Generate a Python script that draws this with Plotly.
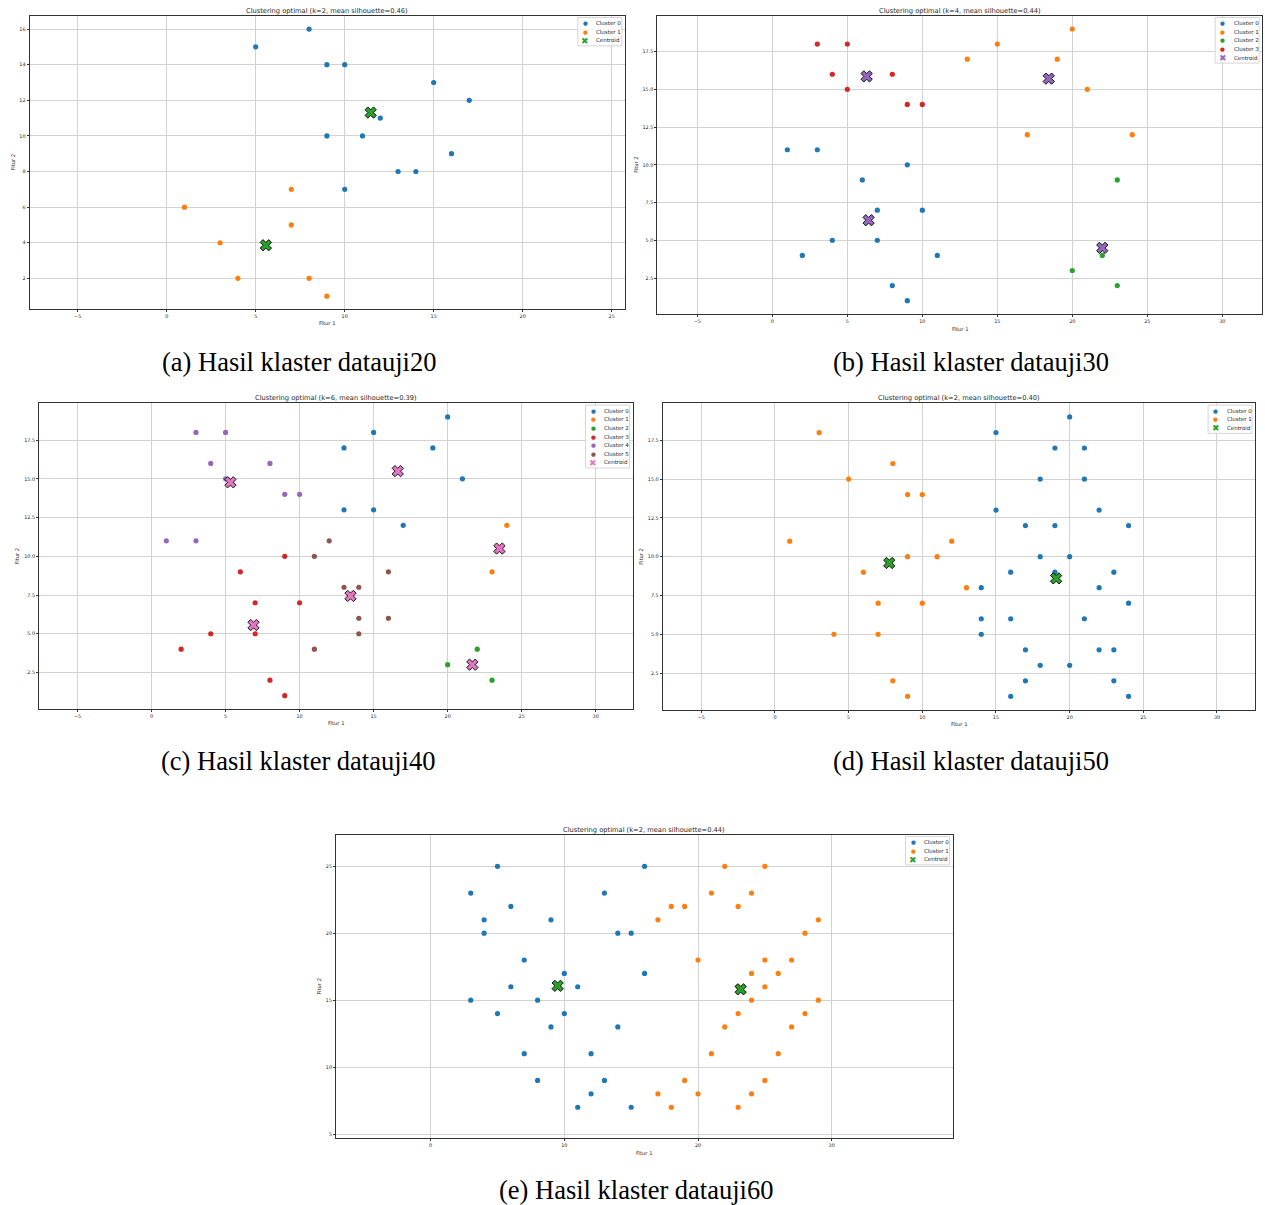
import plotly.graph_objects as go

W, H = 1265, 1205
TAB = ["#1f77b4", "#ff7f0e", "#2ca02c", "#d62728", "#9467bd", "#8c564b", "#e377c2"]

# ---------------- (a) datauji20, k=2 ----------------
A_C0_X = [8, 5, 9, 10, 15, 17, 12, 9, 11, 16, 13, 14, 10]
A_C0_Y = [16, 15, 14, 14, 13, 12, 11, 10, 10, 9, 8, 8, 7]
A_C1_X = [7, 1, 7, 3, 4, 8, 9]
A_C1_Y = [7, 6, 5, 4, 2, 2, 1]
A_CEN_X = [11.46, 5.57]
A_CEN_Y = [11.31, 3.86]

# ---------------- (b) datauji30, k=4 ----------------
B_C0_X = [1, 3, 9, 6, 7, 10, 4, 7, 2, 11, 8, 9]
B_C0_Y = [11, 11, 10, 9, 7, 7, 5, 5, 4, 4, 2, 1]
B_C1_X = [20, 15, 13, 19, 21, 17, 24]
B_C1_Y = [19, 18, 17, 17, 15, 12, 12]
B_C2_X = [23, 22, 20, 23]
B_C2_Y = [9, 4, 3, 2]
B_C3_X = [3, 5, 4, 8, 5, 9, 10]
B_C3_Y = [18, 18, 16, 16, 15, 14, 14]
B_CEN_X = [6.42, 18.43, 22.0, 6.29]
B_CEN_Y = [6.33, 15.71, 4.5, 15.86]

# ---------------- (c) datauji40, k=6 ----------------
C_C0_X = [20, 15, 13, 19, 21, 13, 15, 17]
C_C0_Y = [19, 18, 17, 17, 15, 13, 13, 12]
C_C1_X = [24, 23]
C_C1_Y = [12, 9]
C_C2_X = [22, 20, 23]
C_C2_Y = [4, 3, 2]
C_C3_X = [9, 6, 7, 10, 4, 7, 2, 8, 9]
C_C3_Y = [10, 9, 7, 7, 5, 5, 4, 2, 1]
C_C4_X = [3, 5, 4, 8, 5, 9, 10, 1, 3]
C_C4_Y = [18, 18, 16, 16, 15, 14, 14, 11, 11]
C_C5_X = [12, 11, 16, 13, 14, 14, 16, 14, 11]
C_C5_Y = [11, 10, 9, 8, 8, 6, 6, 5, 4]
C_CEN_X = [16.63, 23.5, 21.67, 6.89, 5.33, 13.44]
C_CEN_Y = [15.5, 10.5, 3.0, 5.56, 14.78, 7.44]

# ---------------- (d) datauji50, k=2 ----------------
D_C0_X = [20, 15, 19, 21, 18, 21, 15, 22, 17, 19, 24, 18, 20, 16, 19, 23,
          14, 22, 24, 14, 16, 21, 14, 17, 22, 23, 18, 20, 17, 23, 16, 24]
D_C0_Y = [19, 18, 17, 17, 15, 15, 13, 13, 12, 12, 12, 10, 10, 9, 9, 9,
          8, 8, 7, 6, 6, 6, 5, 4, 4, 4, 3, 3, 2, 2, 1, 1]
D_C1_X = [3, 8, 5, 9, 10, 1, 12, 9, 11, 6, 7, 10, 4, 7, 8, 9, 13]
D_C1_Y = [18, 16, 15, 14, 14, 11, 11, 10, 10, 9, 7, 7, 5, 5, 2, 1, 8]
D_CEN_X = [19.08, 7.76]
D_CEN_Y = [8.6, 9.59]

# ---------------- (e) datauji60, k=2 ----------------
E_C0_X = [5, 3, 6, 4, 9, 4, 13, 14, 15, 7, 10, 6, 11, 3, 8, 5, 10, 9, 14, 7,
          12, 8, 13, 12, 11, 15, 16, 16]
E_C0_Y = [25, 23, 22, 21, 21, 20, 23, 20, 20, 18, 17, 16, 16, 15, 15, 14, 14, 13, 13, 11,
          11, 9, 9, 8, 7, 7, 25, 17]
E_C1_X = [22, 25, 21, 24, 18, 19, 23, 17, 29, 28, 20, 25, 27, 24, 26, 25, 23, 24, 29, 23,
          28, 22, 27, 21, 26, 19, 25, 17, 20, 24, 18, 23]
E_C1_Y = [25, 25, 23, 23, 22, 22, 22, 21, 21, 20, 18, 18, 18, 17, 17, 16, 16, 15, 15, 14,
          14, 13, 13, 11, 11, 9, 9, 8, 8, 8, 7, 7]
E_CEN_X = [9.5, 23.19]
E_CEN_Y = [16.07, 15.81]

# tick values
TICKS_X_A = [-5, 0, 5, 10, 15, 20, 25]
TICKS_Y_A = [2, 4, 6, 8, 10, 12, 14, 16]
TICKS_X_BCD = [-5, 0, 5, 10, 15, 20, 25, 30]
TICKS_Y_BCD = [2.5, 5.0, 7.5, 10.0, 12.5, 15.0, 17.5]
TICKS_X_E = [0, 10, 20, 30]
TICKS_Y_E = [5, 10, 15, 20, 25]

panels = [
    dict(clusters=[(A_C0_X, A_C0_Y), (A_C1_X, A_C1_Y)], cen=(A_CEN_X, A_CEN_Y),
         box=(29.5, 15.7, 625, 309), xr=[-7.71, 25.75], yr=[0.28, 16.75],
         xt=TICKS_X_A, yt=TICKS_Y_A, yfmt="d",
         title="Clustering optimal (k=2, mean silhouette=0.46)",
         caption="(a) Hasil klaster datauji20", cap=(299, 362),
         xlab_y=323, ylab_x=13),
    dict(clusters=[(B_C0_X, B_C0_Y), (B_C1_X, B_C1_Y), (B_C2_X, B_C2_Y), (B_C3_X, B_C3_Y)],
         cen=(B_CEN_X, B_CEN_Y),
         box=(657.3, 15.7, 1262.3, 314), xr=[-7.67, 32.67], yr=[0.12, 19.88],
         xt=TICKS_X_BCD, yt=TICKS_Y_BCD, yfmt=".1f",
         title="Clustering optimal (k=4, mean silhouette=0.44)",
         caption="(b) Hasil klaster datauji30", cap=(971, 362),
         xlab_y=329, ylab_x=636),
    dict(clusters=[(C_C0_X, C_C0_Y), (C_C1_X, C_C1_Y), (C_C2_X, C_C2_Y), (C_C3_X, C_C3_Y),
                   (C_C4_X, C_C4_Y), (C_C5_X, C_C5_Y)],
         cen=(C_CEN_X, C_CEN_Y),
         box=(39, 403.3, 632.7, 709.3), xr=[-7.6, 32.5], yr=[0.12, 19.88],
         xt=TICKS_X_BCD, yt=TICKS_Y_BCD, yfmt=".1f",
         title="Clustering optimal (k=6, mean silhouette=0.39)",
         caption="(c) Hasil klaster datauji40", cap=(298, 761),
         xlab_y=723, ylab_x=17),
    dict(clusters=[(D_C0_X, D_C0_Y), (D_C1_X, D_C1_Y)], cen=(D_CEN_X, D_CEN_Y),
         box=(662.7, 403.3, 1255.3, 710), xr=[-7.62, 32.6], yr=[0.12, 19.88],
         xt=TICKS_X_BCD, yt=TICKS_Y_BCD, yfmt=".1f",
         title="Clustering optimal (k=2, mean silhouette=0.40)",
         caption="(d) Hasil klaster datauji50", cap=(971, 761),
         xlab_y=724, ylab_x=641),
    dict(clusters=[(E_C0_X, E_C0_Y), (E_C1_X, E_C1_Y)], cen=(E_CEN_X, E_CEN_Y),
         box=(336, 834.7, 952.7, 1138.3), xr=[-7.08, 39.05], yr=[4.68, 27.36],
         xt=TICKS_X_E, yt=TICKS_Y_E, yfmt="d",
         title="Clustering optimal (k=2, mean silhouette=0.44)",
         caption="(e) Hasil klaster datauji60", cap=(636, 1190),
         xlab_y=1153, ylab_x=318),
]

fig = go.Figure()
annotations = []
shapes = []
TXT = "#262626"


def px(x):
    return x / W


def py(y):
    return 1 - y / H


for i, p in enumerate(panels, start=1):
    L, T, R, B = p["box"]
    k = len(p["clusters"])
    xa, ya = f"x{i}", f"y{i}"
    for ci, (cx, cy) in enumerate(p["clusters"]):
        fig.add_trace(go.Scatter(
            x=cx, y=cy, mode="markers", xaxis=xa, yaxis=ya, showlegend=False,
            marker=dict(size=5.2, color=TAB[ci], line=dict(width=0)),
            name=f"Cluster {ci}"))
    fig.add_trace(go.Scatter(
        x=p["cen"][0], y=p["cen"][1], mode="markers", xaxis=xa, yaxis=ya, showlegend=False,
        marker=dict(size=10, symbol="x", color=TAB[k], line=dict(width=0.9, color="black")),
        name="Centroid"))

    axkw = dict(showline=True, mirror=True, linecolor="#333333", linewidth=1,
                ticks="outside", ticklen=2, tickwidth=0.7, tickcolor="#333333",
                showgrid=True, gridcolor="#d2d2d2", gridwidth=1, zeroline=False,
                tickfont=dict(family="DejaVu Sans", size=4.9, color=TXT),
                tickmode="array", fixedrange=True)
    fig.layout[f"xaxis{i}"] = dict(domain=[px(L), px(R)], range=p["xr"], anchor=ya,
                                   tickvals=p["xt"], **axkw)
    fig.layout[f"yaxis{i}"] = dict(domain=[py(B), py(T)], range=p["yr"], anchor=xa,
                                   tickvals=p["yt"], tickformat=p["yfmt"], **axkw)

    cxm = (L + R) / 2
    cym = (T + B) / 2
    # title
    annotations.append(dict(x=px(cxm), y=py(T + 1.2), xref="paper", yref="paper",
                            text=p["title"], showarrow=False, xanchor="center", yanchor="bottom",
                            font=dict(family="DejaVu Sans", size=6.7, color=TXT)))
    # axis labels
    annotations.append(dict(x=px(cxm), y=py(p["xlab_y"]), xref="paper", yref="paper",
                            text="Fitur 1", showarrow=False, xanchor="center", yanchor="middle",
                            font=dict(family="DejaVu Sans", size=5.2, color=TXT)))
    annotations.append(dict(x=px(p["ylab_x"]), y=py(cym), xref="paper", yref="paper",
                            text="Fitur 2", showarrow=False, xanchor="center", yanchor="middle",
                            textangle=-90,
                            font=dict(family="DejaVu Sans", size=5.2, color=TXT)))
    # caption
    annotations.append(dict(x=px(p["cap"][0]), y=py(p["cap"][1]), xref="paper", yref="paper",
                            text=p["caption"], showarrow=False, xanchor="center", yanchor="middle",
                            font=dict(family="Liberation Serif", size=26.5, color="black")))
    # legend (drawn as frame + text entries)
    labels = [f"Cluster {ci}" for ci in range(k)] + ["Centroid"]
    colors = TAB[:k] + [TAB[k]]
    bw = 44
    bR = R - 3.2
    bL = bR - bw
    bT = T + 1.8
    step = 8.65
    bB = bT + 5.5 + step * (len(labels) - 1) + 5.5
    shapes.append(dict(type="rect", xref="paper", yref="paper",
                       x0=px(bL), x1=px(bR), y0=py(bB), y1=py(bT),
                       line=dict(color="#cccccc", width=0.8), fillcolor="rgba(255,255,255,0.8)",
                       layer="above"))
    for li, (lab, col) in enumerate(zip(labels, colors)):
        yy = bT + 5.5 + step * li
        is_c = lab == "Centroid"
        annotations.append(dict(x=px(bL + 7.5), y=py(yy + (0.3 if is_c else 0.2)),
                                xref="paper", yref="paper",
                                text=("✖" if is_c else "●"), showarrow=False,
                                xanchor="center", yanchor="middle",
                                font=dict(family="DejaVu Sans", size=(9 if is_c else 5.5), color=col)))
        annotations.append(dict(x=px(bL + 16.5), y=py(yy), xref="paper", yref="paper",
                                text=lab, showarrow=False, xanchor="left", yanchor="middle",
                                font=dict(family="DejaVu Sans", size=5.5, color=TXT)))

fig.update_layout(width=W, height=H, margin=dict(l=0, r=0, t=0, b=0),
                  paper_bgcolor="white", plot_bgcolor="white", showlegend=False,
                  annotations=annotations, shapes=shapes)

fig.write_html("out.html")
